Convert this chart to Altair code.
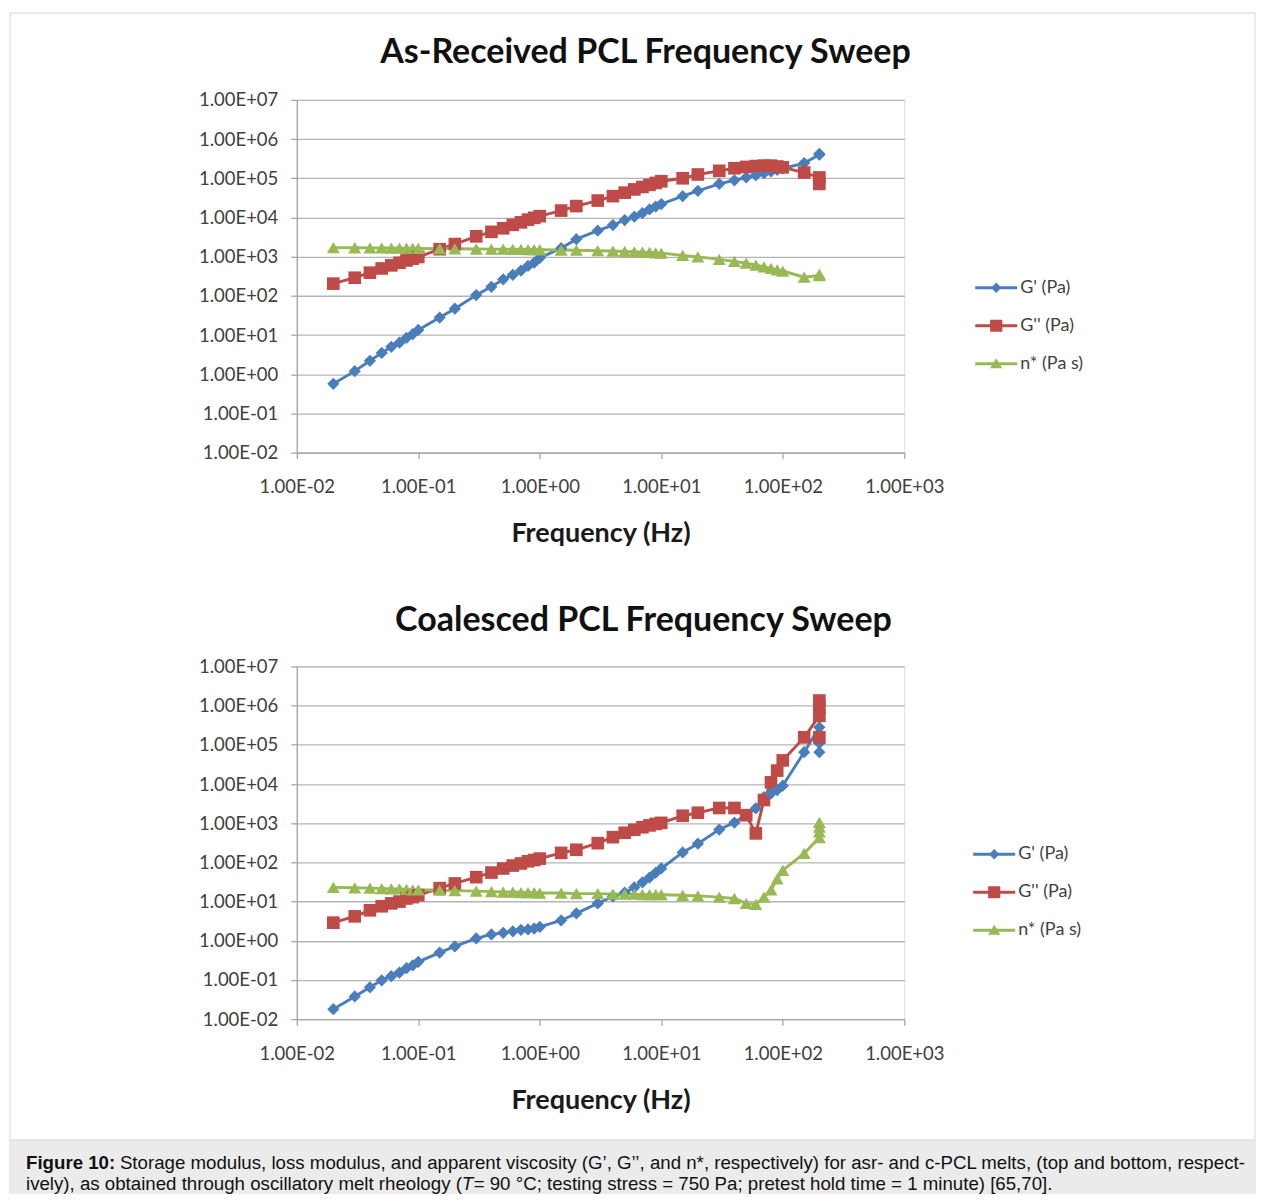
import altair as alt
import pandas as pd

# ---------------- data ----------------
SERIES = ["G' (Pa)", "G'' (Pa)", "n* (Pa s)"]
COLORS = ["#4a7ebb", "#be4b48", "#98b954"]

FREQ = [0.02, 0.03, 0.04, 0.05, 0.06, 0.07, 0.08, 0.09, 0.1, 0.15, 0.2, 0.3, 0.4, 0.5,
        0.6, 0.7, 0.8, 0.9, 1, 1.5, 2, 3, 4, 5, 6, 7, 8, 9, 10, 15, 20, 30, 40, 50, 60,
        70, 80, 90, 100, 150, 200]
TOP_FREQ = FREQ + [200]
BOT_FREQ = FREQ + [200, 200, 200]

TOP_GP = [0.57, 1.2, 2.2, 3.5, 5.0, 6.4, 8.5, 10.5, 13.5, 28, 47, 105, 170, 265, 345, 440,
          580, 700, 930, 1650, 2800, 4600, 6400, 8600, 10500, 13000, 16000, 19000, 22000,
          35000, 48000, 72000, 89000, 105000, 120000, 135000, 150000, 165000, 178000,
          245000, 400000, 420000]
TOP_GPP = [205, 290, 390, 500, 600, 700, 800, 890, 980, 1550, 2100, 3300, 4300, 5300, 6500,
           7500, 8800, 9800, 10800, 15000, 19500, 27000, 35000, 43000, 52000, 60000, 68000,
           76000, 84000, 100000, 125000, 155000, 180000, 195000, 205000, 210000, 210000,
           200000, 190000, 140000, 105000, 72000]
TOP_ETA = [1700, 1690, 1680, 1670, 1660, 1650, 1640, 1630, 1620, 1600, 1590, 1570, 1560, 1550,
           1540, 1530, 1520, 1510, 1500, 1480, 1460, 1420, 1390, 1360, 1330, 1300, 1280, 1250,
           1230, 1080, 990, 850, 760, 680, 610, 550, 500, 460, 430, 300, 330, 360]

BOT_GP = [0.018, 0.038, 0.065, 0.098, 0.125, 0.155, 0.2, 0.235, 0.29, 0.5, 0.72, 1.15, 1.45,
          1.6, 1.75, 1.9, 1.95, 2.05, 2.25, 3.3, 5.0, 9.0, 13.5, 17, 23, 31, 41, 55, 70, 180,
          300, 690, 1040, 1660, 2400, 4600, 5700, 7000, 9100, 65000, 280000, 180000, 110000,
          65000]
BOT_GPP = [2.9, 4.2, 6.0, 7.6, 9.0, 10, 12, 13, 14.5, 22, 29, 42, 55, 70, 83, 94, 107, 115,
           125, 175, 210, 310, 440, 570, 680, 790, 880, 960, 1020, 1550, 1850, 2450, 2450,
           1600, 550, 3900, 11000, 22000, 40000, 155000, 550000, 900000, 1350000, 155000]
BOT_ETA = [23, 22.5, 22, 21.5, 21, 21, 20.5, 20, 20, 19.5, 19, 18.5, 18, 17.5, 17.5, 17, 17,
           17, 16.5, 16.5, 16, 16, 15.5, 15.5, 15.5, 15, 15, 15, 15, 14.5, 14, 13, 12, 9, 8.5,
           13, 20, 38, 63, 170, 430, 600, 800, 1050]

X_TICKS = [0.01, 0.1, 1, 10, 100, 1000]
Y_TICKS = [0.01, 0.1, 1, 10, 100, 1000, 1e4, 1e5, 1e6, 1e7]

TITLE_TOP = ["As-Received PCL Frequency Sweep"]
TITLE_BOT = ["Coalesced PCL Frequency Sweep"]
X_TITLE = "Frequency (Hz)"

CAP_BOLD = ["Figure 10:"]
CAP_L1 = ["Storage modulus, loss modulus, and apparent viscosity (G\u2019, G\u2019\u2019, and n*, "
          "respectively) for asr- and c-PCL melts, (top and bottom, respect-"]
CAP_L2A = ["ively), as obtained through oscillatory melt rheology ("]
CAP_T = ["T"]
CAP_L2B = [" = 90 \u00b0C; testing stress = 750 Pa; pretest hold time = 1 minute) [65,70]."]


def long_df(freq, gp, gpp, eta):
    rows = []
    for name, vals in zip(SERIES, [gp, gpp, eta]):
        for i, (f, v) in enumerate(zip(freq, vals)):
            rows.append({"freq": f, "value": v, "series": name, "idx": i})
    return pd.DataFrame(rows)


top_df = long_df(TOP_FREQ, TOP_GP, TOP_GPP, TOP_ETA)
bot_df = long_df(BOT_FREQ, BOT_GP, BOT_GPP, BOT_ETA)
leg_df = pd.DataFrame({"series": SERIES})

# ---------------- styling helpers ----------------
EXP = "round(log(datum.value)/LN10)"
FMT = ("'1.00E' + (" + EXP + " < 0 ? '-' : '+') + (abs(" + EXP + ") < 10 ? '0' : '') + abs(" + EXP + ")")

FONT = "Lato"
AXIS_GRAY = "#a6a6a6"
GRID_GRAY = "#b5b5b5"
LBL = 18.5

LINE = "M-2,-0.14L2,-0.14L2,0.14L-2,0.14Z"
P_DIAMOND = LINE + "M0,-0.5L0.5,0L0,0.5L-0.5,0Z"
P_SQUARE = LINE + "M-0.58,-0.58L0.58,-0.58L0.58,0.58L-0.58,0.58Z"
P_TRI = LINE + "M0,-0.52L0.58,0.44L-0.58,0.44Z"


def panel(df, title, title_x, title_y, leg_x, leg_y0, extra=()):
    x = alt.X("freq:Q",
              scale=alt.Scale(type="log", domain=[0.01, 1000], nice=False),
              axis=alt.Axis(values=X_TICKS, labelExpr=FMT, grid=False, domainColor=AXIS_GRAY,
                            tickColor=AXIS_GRAY, tickSize=6, labelPadding=19, labelFlush=False,
                            labelOverlap=False, labelFont=FONT, labelFontSize=LBL,
                            labelColor="#404040", title=X_TITLE, titleFont=FONT,
                            titleFontSize=27, titleFontWeight="bold", titleColor="#1a1a1a",
                            titleY=89, titleBaseline="alphabetic", domainWidth=1.3,
                            tickWidth=1.3))
    y = alt.Y("value:Q",
              scale=alt.Scale(type="log", domain=[0.01, 1e7], nice=False),
              axis=alt.Axis(values=Y_TICKS, labelExpr=FMT, grid=True, gridColor=GRID_GRAY,
                            gridWidth=1.3, domainColor=AXIS_GRAY, tickColor=AXIS_GRAY,
                            tickSize=6, labelPadding=13, labelFlush=False, labelOverlap=False,
                            labelFont=FONT, labelFontSize=LBL, labelColor="#404040", title=None,
                            domainWidth=1.3, tickWidth=1.3))
    color = alt.Color("series:N", scale=alt.Scale(domain=SERIES, range=COLORS), legend=None)
    base = alt.Chart(df).encode(x=x, y=y, color=color, order=alt.Order("idx:Q"))
    lines = base.mark_line(strokeWidth=2.9)
    pts = base.mark_point(filled=True, opacity=1).encode(
        shape=alt.Shape("series:N", scale=alt.Scale(domain=SERIES,
                                                    range=["diamond", "square", "triangle-up"]),
                        legend=None),
        size=alt.Size("series:N", scale=alt.Scale(domain=SERIES, range=[150, 170, 175]),
                      legend=None),
    )
    data_layer = alt.layer(lines, pts)

    ly = alt.Y("series:N", scale=alt.Scale(type="point", domain=SERIES,
                                           range=[leg_y0, leg_y0 + 76], padding=0), axis=None)
    leg_sym = alt.Chart(leg_df).mark_point(filled=True, opacity=1, size=441, strokeWidth=0).encode(
        x=alt.value(leg_x), y=ly, color=color,
        shape=alt.Shape("series:N", scale=alt.Scale(domain=SERIES,
                                                    range=[P_DIAMOND, P_SQUARE, P_TRI]),
                        legend=None),
    )
    leg_txt = alt.Chart(leg_df).mark_text(align="left", baseline="middle", font=FONT,
                                          fontSize=18, color="#404040").encode(
        x=alt.value(leg_x + 24), y=ly, text="series:N")
    legend_layer = alt.layer(leg_sym, leg_txt)

    title_mark = alt.Chart(pd.DataFrame({"t": title})).mark_text(
        align="center", baseline="alphabetic", font=FONT, fontSize=34, fontWeight="bold",
        color="#111111").encode(x=alt.value(title_x), y=alt.value(title_y), text="t:N")

    return alt.layer(*extra, title_mark, data_layer, legend_layer).resolve_scale(
        y="independent", shape="independent"
    ).properties(width=608, height=353)


# frame and caption (pixel offsets relative to the lower panel's plot area)
one = pd.DataFrame({"k": [0]})
border = alt.Chart(one).mark_rect(fill="transparent", stroke="#d6d6d6", strokeWidth=1).encode(
    x=alt.value(-287), x2=alt.value(959), y=alt.value(-654), y2=alt.value(474))
capbox = alt.Chart(one).mark_rect(fill="#ebebeb").encode(
    x=alt.value(-288), x2=alt.value(960), y=alt.value(474), y2=alt.value(528))

CAP_FONT = "Liberation Sans"


def cap_text(lst, xv, yv, bold=False, italic=False):
    return alt.Chart(pd.DataFrame({"t": lst})).mark_text(
        align="left", baseline="alphabetic", font=CAP_FONT, fontSize=18.7, color="#111111",
        fontWeight="bold" if bold else "normal", fontStyle="italic" if italic else "normal"
    ).encode(x=alt.value(xv), y=alt.value(yv), text="t:N")


caption = [
    capbox, border,
    cap_text(CAP_BOLD, -271, 503, bold=True),
    cap_text(CAP_L1, -177, 503),
    cap_text(CAP_L2A, -271, 524),
    cap_text(CAP_T, 165, 524, italic=True),
    cap_text(CAP_L2B, 177, 524),
]

top = panel(top_df, TITLE_TOP, 349, -37, 700, 188)
bottom = panel(bot_df, TITLE_BOT, 347, -35, 698, 188, extra=caption)

chart = alt.vconcat(top, bottom, spacing=214, bounds="flush").resolve_scale(
    color="independent", shape="independent", size="independent"
).properties(
    padding={"left": 0, "top": 3.5, "right": 0, "bottom": 0}
).configure_view(stroke=None).configure(background="white")

chart.save("out.html", embed_options={"renderer": "svg", "actions": False})
